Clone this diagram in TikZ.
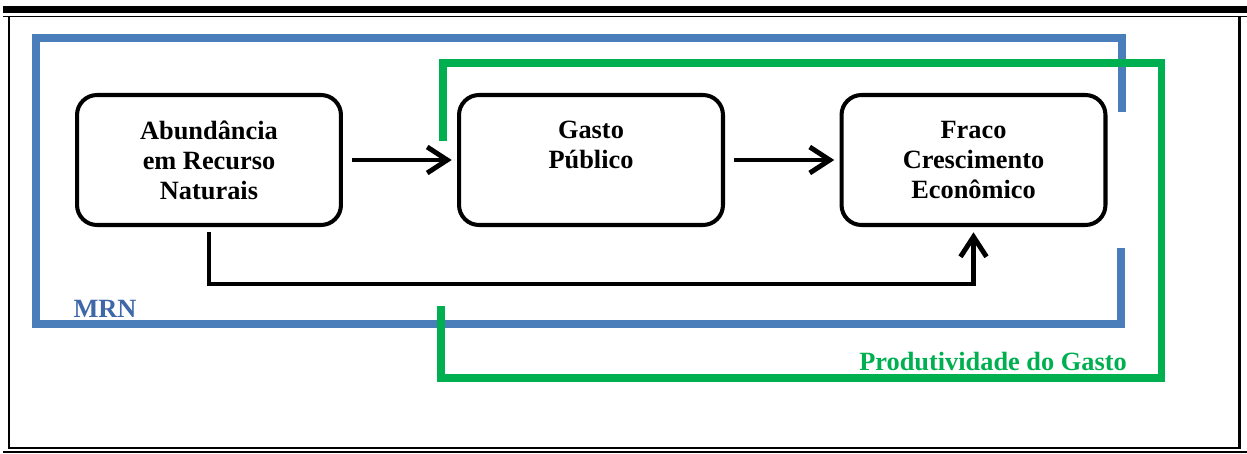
\documentclass[tikz,border=0pt]{standalone}
\usepackage{fontspec}
\setmainfont{Liberation Serif}
\usepackage{xcolor}
\usetikzlibrary{arrows.meta, positioning}

\definecolor{mrnblue}{RGB}{74,126,187}
\definecolor{mrntext}{RGB}{62,104,168}
\definecolor{gastogreen}{RGB}{0,176,80}

\tikzset{
  caixa/.style={draw, line width=2.3pt, rounded corners=0.4cm,
    minimum width=5.28cm, minimum height=2.6cm, align=center,
    font=\bfseries\fontsize{15}{17}\selectfont},
  seta/.style={line width=2.8pt, -{Straight Barb[length=0.4cm,width=0.52cm]}},
  mrnline/.style={draw=mrnblue, line width=4.5pt},
  gastoline/.style={draw=gastogreen, line width=4pt},
  rotulo/.style={font=\bfseries\fontsize{15}{17}\selectfont},
}

\begin{document}
\begin{tikzpicture}[x=0.02cm, y=-0.02cm]
  \useasboundingbox (0,0) rectangle (1247,453);

  % moldura
  \fill (3,6) rectangle (1247,13);
  \draw[line width=1.1pt] (3,16.5) -- (1247,16.5);
  \draw[line width=1.7pt] (9,16) -- (9,448) -- (1239,448) -- (1239,16);
  \draw[line width=0.6pt] (3,452) -- (1247,452);

  % linha MRN
  \draw[mrnline] (1122,112) -- (1122,38) -- (36,38) -- (36,324) -- (1121,324) -- (1121,248);
  \node[rotulo, text=mrntext] (mrn) at (105,309) {MRN};

  % linha produtividade
  \draw[gastoline] (443,141) -- (443,63) -- (1161,63) -- (1161,378) -- (441,378) -- (441,306);
  \node[rotulo, text=gastogreen] (prod) at (993,362) {Produtividade do Gasto};

  % caixas
  \node[caixa] (abund) at (209,160) {Abundância\\em Recurso\\Naturais};
  \node[caixa] (gasto) at (591,160) {Gasto\\Público\\\phantom{X}};
  \node[caixa] (fraco) at (973.5,160) {Fraco\\Crescimento\\Econômico};

  % setas
  \coordinate (baixo) at (600,284);
  \draw[seta, shorten <=5pt, shorten >=3pt] (abund) -- (gasto);
  \draw[seta, shorten <=5pt, shorten >=3pt] (gasto) -- (fraco);
  \draw[seta, shorten <=3pt, shorten >=3pt] (abund.south) |- (baixo) -| (fraco.south);

\end{tikzpicture}
\end{document}
